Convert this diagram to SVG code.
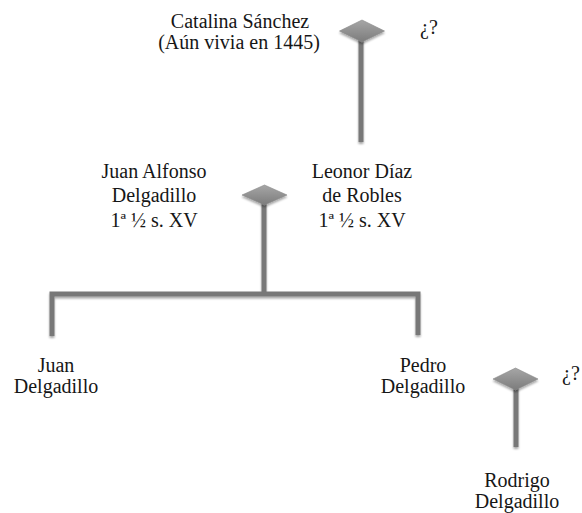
<svg xmlns="http://www.w3.org/2000/svg" width="582" height="513" viewBox="0 0 582 513">
  <defs>
    <linearGradient id="knot" x1="0" y1="0" x2="0" y2="1">
      <stop offset="0" stop-color="#a6a6a6"/>
      <stop offset="1" stop-color="#7c7c7c"/>
    </linearGradient>
    <filter id="shade" x="-30%" y="-30%" width="160%" height="160%">
      <feGaussianBlur in="SourceAlpha" stdDeviation="1.2"/>
      <feOffset dx="0" dy="1.5" result="b"/>
      <feComponentTransfer><feFuncA type="linear" slope="0.35"/></feComponentTransfer>
      <feMerge><feMergeNode/><feMergeNode in="SourceGraphic"/></feMerge>
    </filter>
  </defs>
  <style>
    .t { font-family: 'Liberation Serif', 'Times New Roman', serif; font-size: 20px; fill: #161616; text-anchor: middle; }
    .q { text-anchor: start; }
    .bar { stroke: #787878; stroke-width: 5; fill: none; stroke-linecap: butt; stroke-linejoin: miter; }
    .knot { fill: url(#knot); stroke: #8a8a8a; stroke-width: 0.6; }
  </style>

  <!-- connectors: stems and the sibling bracket -->
  <g id="connectors" filter="url(#shade)">
    <line class="bar" x1="361" y1="38" x2="361" y2="142"/>
    <line class="bar" x1="264" y1="203" x2="264" y2="294"/>
    <polyline class="bar" points="52,336 52,294 418,294 418,335"/>
    <line class="bar" x1="516" y1="387" x2="516" y2="447"/>
  </g>

  <!-- union markers -->
  <g id="union-catalina" filter="url(#shade)">
    <polygon class="knot" points="339.5,31 362,20 384.5,31 362,42"/>
  </g>
  <g id="union-juan-leonor" filter="url(#shade)">
    <polygon class="knot" points="242,195 264.5,185 287,195 264.5,205"/>
  </g>
  <g id="union-pedro" filter="url(#shade)">
    <polygon class="knot" points="493,379 515.5,368 538,379 515.5,390"/>
  </g>

  <!-- people -->
  <g id="catalina">
    <text class="t" x="240" y="28">Catalina Sánchez</text>
    <text class="t" x="239" y="49">(Aún vivia en 1445)</text>
  </g>
  <g id="unknown-1">
    <text class="t q" x="420" y="34">¿?</text>
  </g>
  <g id="juan-alfonso">
    <text class="t" x="154" y="178">Juan Alfonso</text>
    <text class="t" x="154" y="202">Delgadillo</text>
    <text class="t" x="154" y="227">1ª ½ s. XV</text>
  </g>
  <g id="leonor">
    <text class="t" x="362" y="178">Leonor Díaz</text>
    <text class="t" x="362" y="202">de Robles</text>
    <text class="t" x="362" y="227">1ª ½ s. XV</text>
  </g>
  <g id="juan">
    <text class="t" x="56" y="372">Juan</text>
    <text class="t" x="56" y="393">Delgadillo</text>
  </g>
  <g id="pedro">
    <text class="t" x="423" y="372">Pedro</text>
    <text class="t" x="423" y="393">Delgadillo</text>
  </g>
  <g id="unknown-2">
    <text class="t q" x="562" y="380">¿?</text>
  </g>
  <g id="rodrigo">
    <text class="t" x="517" y="487">Rodrigo</text>
    <text class="t" x="517" y="508">Delgadillo</text>
  </g>
</svg>
